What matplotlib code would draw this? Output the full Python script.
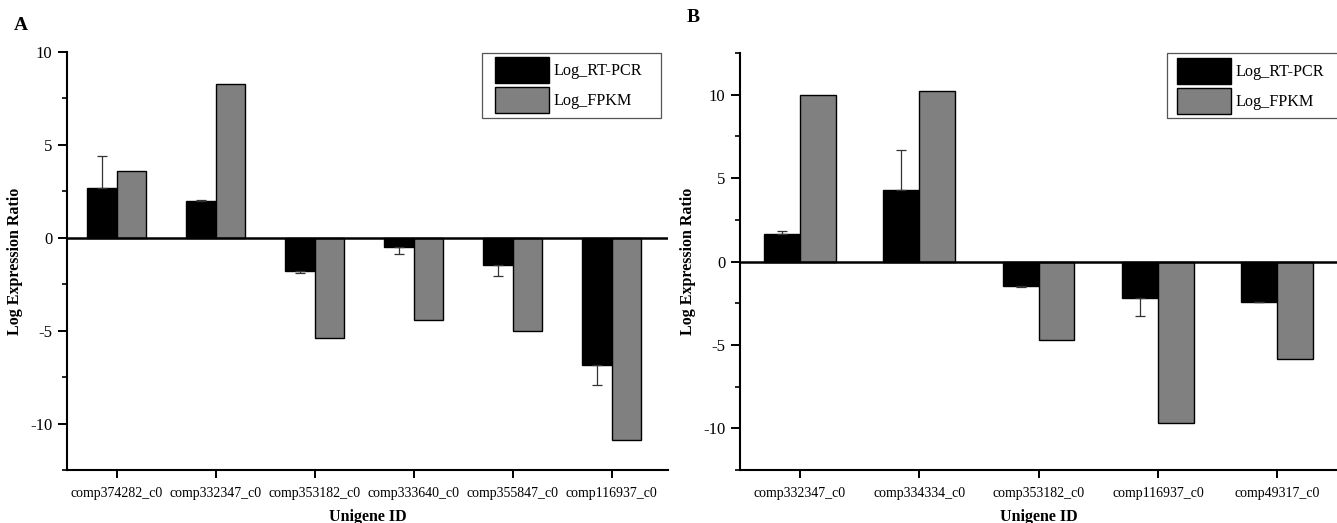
import matplotlib
matplotlib.use("Agg")
import matplotlib.pyplot as plt
import numpy as np
from matplotlib.ticker import MultipleLocator
from matplotlib.patches import Rectangle

plt.rcParams['font.family'] = ['Liberation Serif', 'DejaVu Serif']

# Panel A data
genes_a = ["comp374282_c0", "comp332347_c0", "comp353182_c0",
           "comp333640_c0", "comp355847_c0", "comp116937_c0"]
rtpcr_a = [2.68, 1.98, -1.77, -0.47, -1.46, -6.85]
rtpcr_err_a = [1.70, 0.07, 0.12, 0.40, 0.60, 1.08]
fpkm_a = [3.60, 8.29, -5.37, -4.40, -5.00, -10.86]

# Panel B data
genes_b = ["comp332347_c0", "comp334334_c0", "comp353182_c0",
           "comp116937_c0", "comp49317_c0"]
rtpcr_b = [1.64, 4.31, -1.44, -2.18, -2.42]
rtpcr_err_b = [0.20, 2.38, 0.06, 1.06, 0.03]
fpkm_b = [10.0, 10.2, -4.73, -9.68, -5.87]

W, H = 1337, 523
fig = plt.figure(figsize=(W / 100, H / 100), dpi=100)

GREY = "#808080"
LEG_FS = 11.6


def px(x, y):
    return (x / W, 1 - y / H)


def panel(rect, genes, rt, rterr, fp, ylim, yticks, xlim, letter, letter_xy,
          leg_anchor, frame_box):
    ax = fig.add_axes(rect)
    x = np.arange(len(genes))
    w = 0.3
    ax.bar(x - w / 2, rt, w, color="black", edgecolor="black", linewidth=1,
           label="Log_RT-PCR", zorder=2)
    ax.bar(x + w / 2, fp, w, color=GREY, edgecolor="black", linewidth=1,
           label="Log_FPKM", zorder=2)
    rt = np.array(rt)
    rterr = np.array(rterr)
    lower = np.where(rt < 0, rterr, 0)
    upper = np.where(rt >= 0, rterr, 0)
    ax.errorbar(x - w / 2, rt, yerr=[lower, upper], fmt="none",
                ecolor="#333333", elinewidth=0.9, capsize=3.6, capthick=0.9,
                zorder=3)
    ax.axhline(0, color="black", linewidth=1.8, zorder=4)
    ax.set_xlim(*xlim)
    ax.set_ylim(*ylim)
    ax.set_xticks(x)
    ax.set_xticklabels(genes, fontsize=10)
    ax.set_yticks(yticks)
    ax.set_yticklabels([str(t) for t in yticks], fontsize=12)
    ax.yaxis.set_minor_locator(MultipleLocator(2.5))
    ax.tick_params(axis="x", which="major", direction="out", length=6,
                   width=1.4, pad=6)
    ax.tick_params(axis="y", which="major", direction="out", length=6.5,
                   width=1.4, pad=4)
    ax.tick_params(axis="y", which="minor", direction="out", length=3.6,
                   width=1.2)
    ax.spines["top"].set_visible(False)
    ax.spines["right"].set_visible(False)
    ax.spines["left"].set_linewidth(1.5)
    ax.spines["bottom"].set_linewidth(1.5)
    ax.set_ylabel("Log Expression Ratio", fontsize=11.5, fontweight="bold",
                  labelpad=5)
    ax.set_xlabel("Unigene ID", fontsize=11.5, fontweight="bold", labelpad=7)
    fs_px = LEG_FS * 100 / 72
    hh = (26 / fs_px - 0.245) / 0.65
    ax.legend(loc="upper left", bbox_to_anchor=px(*leg_anchor),
              bbox_transform=fig.transFigure,
              fontsize=LEG_FS, frameon=False,
              handlelength=54 / fs_px, handleheight=hh,
              handletextpad=4 / fs_px, labelspacing=4 / fs_px,
              borderpad=0.0, borderaxespad=0.0)
    x0, y0, x1, y1 = frame_box
    fig.add_artist(Rectangle(px(x0, y1), (x1 - x0) / W, (y1 - y0) / H,
                             transform=fig.transFigure, fill=False,
                             edgecolor="#555555", linewidth=0.9,
                             clip_on=False))
    fig.text(*px(*letter_xy), letter, fontsize=14,
             fontweight="bold", ha="left", va="center")
    return ax


panel([67 / W, (H - 470) / H, (668 - 67) / W, (470 - 52) / H],
      genes_a, rtpcr_a, rtpcr_err_a, fpkm_a,
      ylim=(-12.5, 10), yticks=[-10, -5, 0, 5, 10], xlim=(-0.5, 5.57),
      letter="A", letter_xy=(14, 26),
      leg_anchor=(495, 57), frame_box=(482, 53, 661, 118))

panel([740 / W, (H - 470) / H, (W - 740) / W, (470 - 53) / H],
      genes_b, rtpcr_b, rtpcr_err_b, fpkm_b,
      ylim=(-12.5, 12.5), yticks=[-10, -5, 0, 5, 10], xlim=(-0.5, 4.5),
      letter="B", letter_xy=(687, 17),
      leg_anchor=(1177, 58), frame_box=(1167, 53, 1346, 118))

fig.savefig("out.png", dpi=100)
